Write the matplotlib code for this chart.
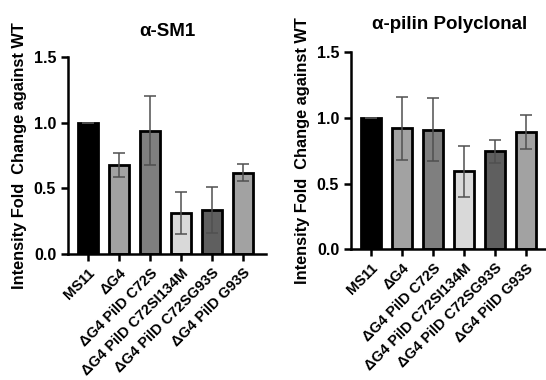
import matplotlib.pyplot as plt
import numpy as np

plt.rcParams['font.family'] = ['Liberation Sans', 'DejaVu Sans']
plt.rcParams['font.weight'] = 'bold'

strains = ["MS11", "ΔG4", "ΔG4 PilD C72S", "ΔG4 PilD C72SI134M",
           "ΔG4 PilD C72SG93S", "ΔG4 PilD G93S"]
bar_colors = ["#000000", "#a2a2a2", "#7f7f7f", "#d9d9d9", "#5f5f5f", "#a2a2a2"]

sm1_mean = [1.0, 0.68, 0.94, 0.31, 0.335, 0.62]
sm1_err = [0.0, 0.09, 0.26, 0.16, 0.175, 0.065]

pilin_mean = [1.0, 0.92, 0.91, 0.595, 0.745, 0.89]
pilin_err = [0.0, 0.24, 0.24, 0.195, 0.085, 0.13]

# titel, srednie, bledy, pozycja osi, odstep tytulu
panels = [
    ("α-SM1", sm1_mean, sm1_err, [68/546, 1-254/380, 198/546, 197/380], 15),
    ("α-pilin Polyclonal", pilin_mean, pilin_err, [351/546, 1-249.3/380, 198/546, 197/380], 17),
]

fig = plt.figure(figsize=(5.46, 3.8), dpi=100)

for titel, mean, err, pos, pad in panels:
    ax = fig.add_axes(pos)
    x = np.arange(len(strains))
    ax.bar(x, mean, width=0.65, color=bar_colors, edgecolor="black", linewidth=2, zorder=2)
    ax.errorbar(x, mean, yerr=err, fmt="none", ecolor="#505050", elinewidth=1.1,
                capsize=4.5, capthick=1.1, zorder=3)
    ax.set_xlim(-0.645, 5.74)
    ax.set_ylim(0, 1.5)
    ax.set_yticks([0.0, 0.5, 1.0, 1.5])
    ax.set_yticklabels(["0.0", "0.5", "1.0", "1.5"], fontsize=11.5, fontweight="bold")
    ax.set_xticks(x)
    ax.set_xticklabels(strains, rotation=45, ha="right", rotation_mode="anchor",
                       fontsize=10.5, fontweight="bold")
    ax.spines["top"].set_visible(False)
    ax.spines["right"].set_visible(False)
    ax.spines["left"].set_linewidth(1.8)
    ax.spines["bottom"].set_linewidth(1.8)
    ax.tick_params(axis="both", width=1.8, length=5)
    ax.set_ylabel("Intensity Fold  Change against WT", fontsize=11.8, fontweight="bold", labelpad=5)
    ax.set_title(titel, fontsize=13.5, fontweight="bold", pad=pad)

fig.savefig("out.png", dpi=100)
